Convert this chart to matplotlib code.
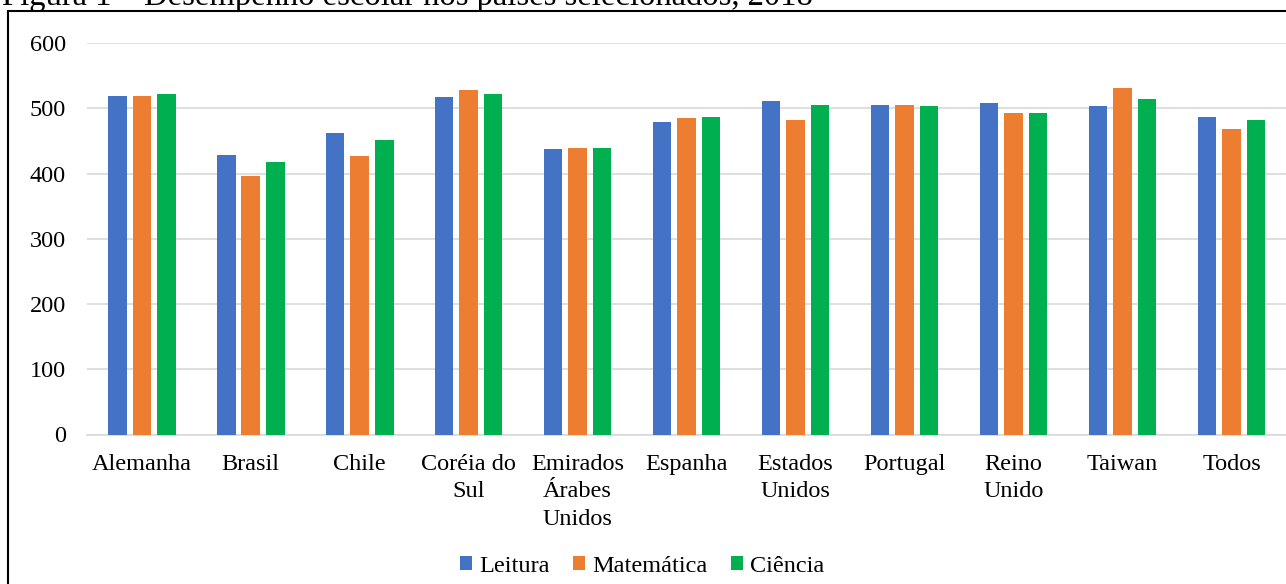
import matplotlib
matplotlib.use("Agg")
import matplotlib.pyplot as plt
from matplotlib.patches import Rectangle
import numpy as np

# dados (PISA 2018)
paises = ["Alemanha", "Brasil", "Chile", "Coréia do\nSul", "Emirados\nÁrabes\nUnidos",
          "Espanha", "Estados\nUnidos", "Portugal", "Reino\nUnido", "Taiwan", "Todos"]
leitura = [519, 429, 463, 517, 438, 480, 512, 506, 508, 504, 487]
matematica = [519, 397, 427, 528, 440, 485, 482, 506, 493, 532, 468]
ciencia = [523, 418, 452, 523, 440, 487, 506, 504, 493, 515, 483]
series = ["Leitura", "Matemática", "Ciência"]
cores = ["#4472C4", "#ED7D31", "#00B050"]
yticks = [0, 100, 200, 300, 400, 500, 600]

plt.rcParams['font.family'] = ['Liberation Serif', 'DejaVu Serif']

fig = plt.figure(figsize=(12.86, 5.84), dpi=100)
W, H = 1286, 584

# titulo cortado no topo
fig.text(2 / W, 1 - 5.5 / H, "Figura 1 – Desempenho escolar nos países selecionados, 2018",
         fontsize=23.5, ha='left', va='baseline', color='black')

# moldura
fig.patches.append(Rectangle((8 / W, -0.05), 1.2, 1 - 11 / H + 0.05, transform=fig.transFigure,
                             fill=False, edgecolor='black', linewidth=1.5, zorder=0))

ax = fig.add_axes([87.3 / W, 1 - 434.5 / H, 1 - 87.3 / W, (434.5 - 43.3) / H])
x = np.arange(len(paises))
largura = 0.17
passo = 0.225
for i, (vals, nome, cor) in enumerate(zip([leitura, matematica, ciencia], series, cores)):
    ax.bar(x + (i - 1) * passo, vals, width=largura, color=cor, label=nome, zorder=3)

ax.set_xlim(-0.5, len(paises) - 0.5)
ax.set_ylim(0, 600)
ax.set_yticks(yticks)
ax.set_yticklabels([str(v) for v in yticks], fontsize=17.5)
ax.set_xticks(x)
ax.set_xticklabels(paises, fontsize=17.5, linespacing=1.4)
ax.tick_params(axis='y', length=0, pad=15.5)
ax.tick_params(axis='x', length=0, pad=14)
ax.grid(axis='y', color='#D9D9D9', linewidth=1.2, zorder=0)
for s in ['top', 'right', 'left']:
    ax.spines[s].set_visible(False)
ax.spines['bottom'].set_color('#D9D9D9')
ax.spines['bottom'].set_linewidth(1.2)

fig.legend(loc='center', bbox_to_anchor=(642 / W, 1 - 566 / H), ncol=3, frameon=False,
           fontsize=17.5, handlelength=0.5, handleheight=0.5, handletextpad=0.3,
           columnspacing=0.95)

fig.savefig("out.png", dpi=100)
